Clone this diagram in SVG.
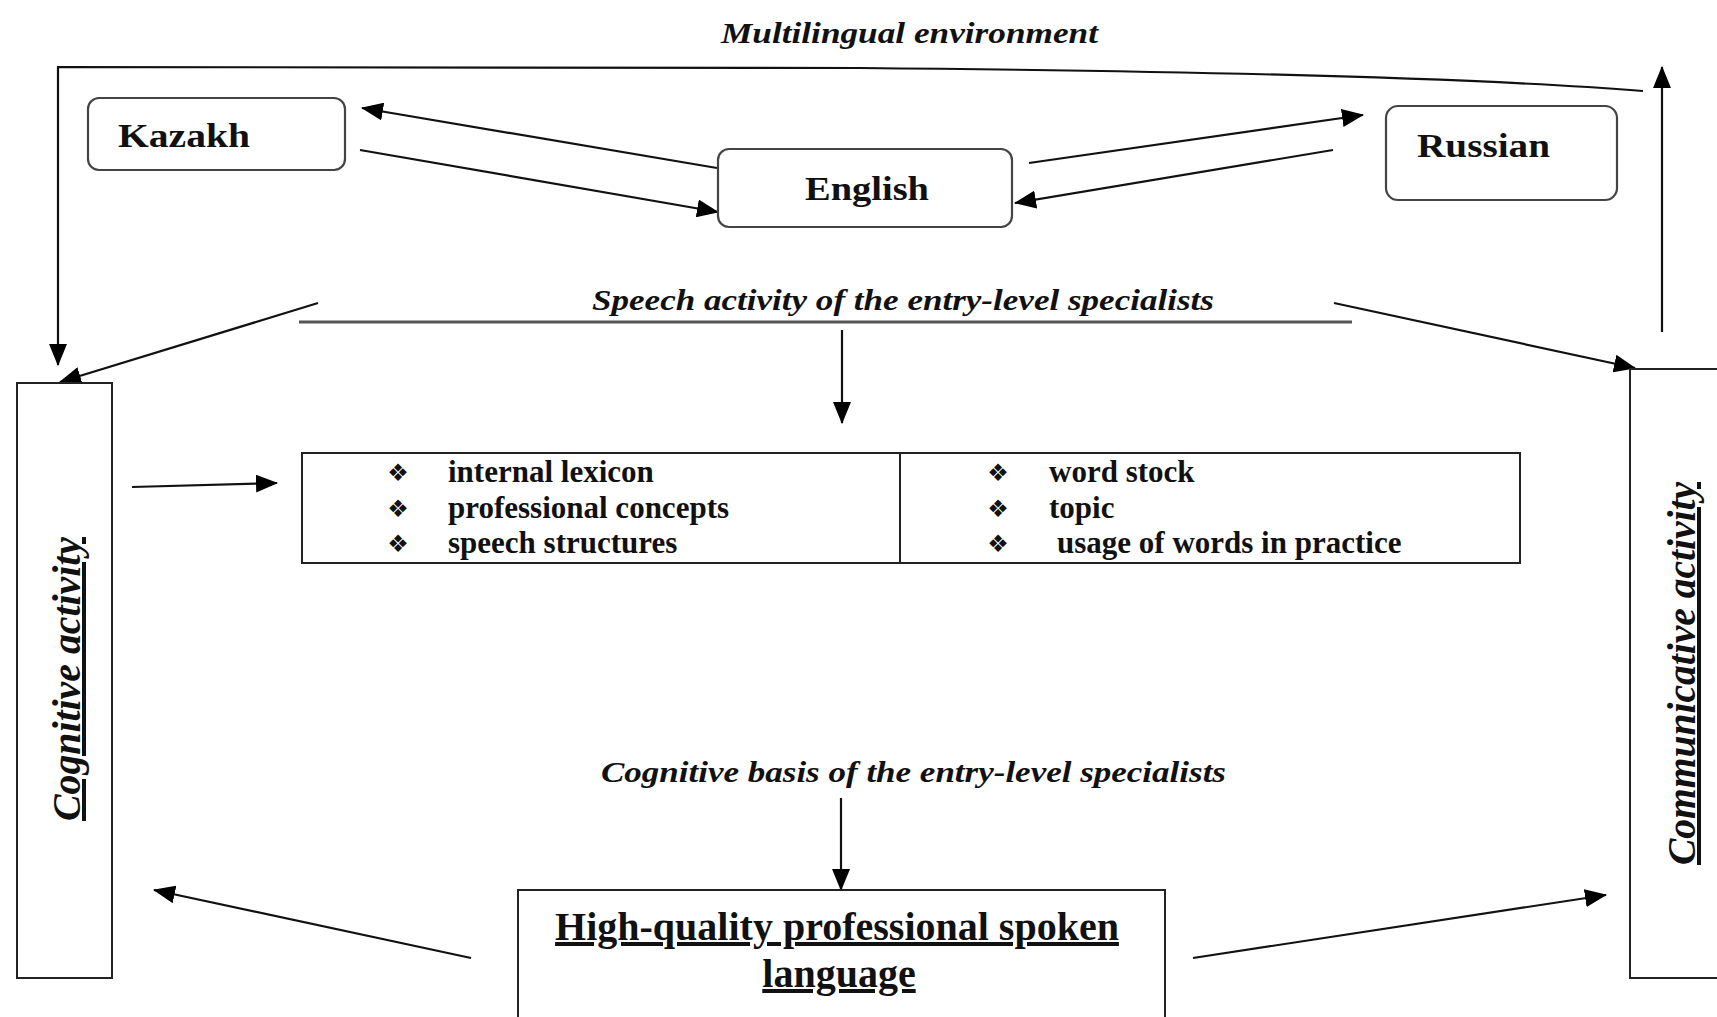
<svg xmlns="http://www.w3.org/2000/svg" width="1717" height="1017" viewBox="0 0 1717 1017">
<defs>
<marker id="ah" markerUnits="userSpaceOnUse" markerWidth="22" markerHeight="18" refX="21" refY="9" orient="auto">
<path d="M0,0 L22,9 L0,18 z" fill="#000"/>
</marker>
<style>
.bg{fill:#fff}
.box{fill:#fff;stroke:#222;stroke-width:2}
.rbox{fill:#fff;stroke:#444;stroke-width:2.2}
.con{fill:none;stroke:#111;stroke-width:2.2}
.arr{fill:none;stroke:#111;stroke-width:2.2;marker-end:url(#ah)}
.lbl{font-family:"Liberation Serif",serif;font-style:italic;font-weight:bold;font-size:30px;fill:#111}
.lang{font-family:"Liberation Serif",serif;font-weight:bold;font-size:34px;fill:#111}
.item{font-family:"Liberation Serif",serif;font-weight:bold;font-size:31px;fill:#111}
.bul{font-family:"DejaVu Sans",sans-serif;font-size:24px;fill:#111;text-anchor:middle}
.side{font-family:"Liberation Serif",serif;font-style:italic;font-weight:bold;font-size:40px;fill:#111;text-decoration:underline}
.res{font-family:"Liberation Serif",serif;font-weight:bold;font-size:40px;fill:#111;text-decoration:underline;text-anchor:middle}
</style>
</defs>
<rect class="bg" x="0" y="0" width="1717" height="1017"/>

<g id="connectors">
<path class="arr" d="M1643,91 Q1420,73 860,68 L58,67 L58,365"/>
<line class="arr" x1="1662" y1="332" x2="1662" y2="67"/>
<line class="arr" x1="717" y1="168" x2="362" y2="108"/>
<line class="arr" x1="360" y1="150" x2="718" y2="212"/>
<line class="arr" x1="1029" y1="163" x2="1363" y2="115"/>
<line class="arr" x1="1333" y1="150" x2="1015" y2="203"/>
<line class="con" x1="299" y1="322" x2="1352" y2="322" style="stroke:#555;stroke-width:3"/>
<line class="arr" x1="318" y1="303" x2="60" y2="382"/>
<line class="arr" x1="1334" y1="303" x2="1635" y2="368"/>
<line class="arr" x1="842" y1="330" x2="842" y2="423"/>
<line class="arr" x1="132" y1="487" x2="277" y2="483"/>
<line class="arr" x1="841" y1="798" x2="841" y2="890"/>
<line class="arr" x1="471" y1="958" x2="154" y2="890"/>
<line class="arr" x1="1193" y1="958" x2="1606" y2="895"/>
</g>

<g id="label-multilingual">
<text class="lbl" x="721" y="43" textLength="377" lengthAdjust="spacingAndGlyphs">Multilingual environment</text>
</g>

<g id="node-kazakh">
<rect class="rbox" x="88" y="98" width="257" height="72" rx="11"/>
<text class="lang" x="118" y="147" textLength="132" lengthAdjust="spacingAndGlyphs">Kazakh</text>
</g>

<g id="node-english">
<rect class="rbox" x="718" y="149" width="294" height="78" rx="11"/>
<text class="lang" x="805" y="200" textLength="124" lengthAdjust="spacingAndGlyphs">English</text>
</g>

<g id="node-russian">
<rect class="rbox" x="1386" y="106" width="231" height="94" rx="12"/>
<text class="lang" x="1417" y="157" textLength="133" lengthAdjust="spacingAndGlyphs">Russian</text>
</g>

<g id="label-speech">
<text class="lbl" x="592" y="310" textLength="622" lengthAdjust="spacingAndGlyphs">Speech activity of the entry-level specialists</text>
</g>

<g id="node-cognitive">
<rect class="box" x="17" y="383" width="95" height="595"/>
<text class="side" x="80" y="821" transform="rotate(-90 80 821)" textLength="284" lengthAdjust="spacingAndGlyphs">Cognitive activity</text>
</g>

<g id="node-communicative">
<rect class="box" x="1630" y="369" width="100" height="609"/>
<text class="side" x="1695" y="865" transform="rotate(-90 1695 865)" textLength="383" lengthAdjust="spacingAndGlyphs">Communicative activity</text>
</g>

<g id="node-table">
<rect class="box" x="302" y="453" width="1218" height="110"/>
<line class="box" x1="900" y1="453" x2="900" y2="563"/>
<text class="bul" x="398" y="481">❖</text>
<text class="bul" x="398" y="517">❖</text>
<text class="bul" x="398" y="552">❖</text>
<text class="item" x="448" y="482">internal lexicon</text>
<text class="item" x="448" y="518">professional concepts</text>
<text class="item" x="448" y="553">speech structures</text>
<text class="bul" x="998" y="481">❖</text>
<text class="bul" x="998" y="517">❖</text>
<text class="bul" x="998" y="552">❖</text>
<text class="item" x="1049" y="482">word stock</text>
<text class="item" x="1049" y="518">topic</text>
<text class="item" x="1057" y="553">usage of words in practice</text>
</g>

<g id="label-cognitive-basis">
<text class="lbl" x="601" y="782" textLength="625" lengthAdjust="spacingAndGlyphs">Cognitive basis of the entry-level specialists</text>
</g>

<g id="node-result">
<rect class="box" x="518" y="890" width="647" height="140"/>
<text class="res" x="837" y="940">High-quality professional spoken</text>
<text class="res" x="839" y="987">language</text>
</g>
</svg>
